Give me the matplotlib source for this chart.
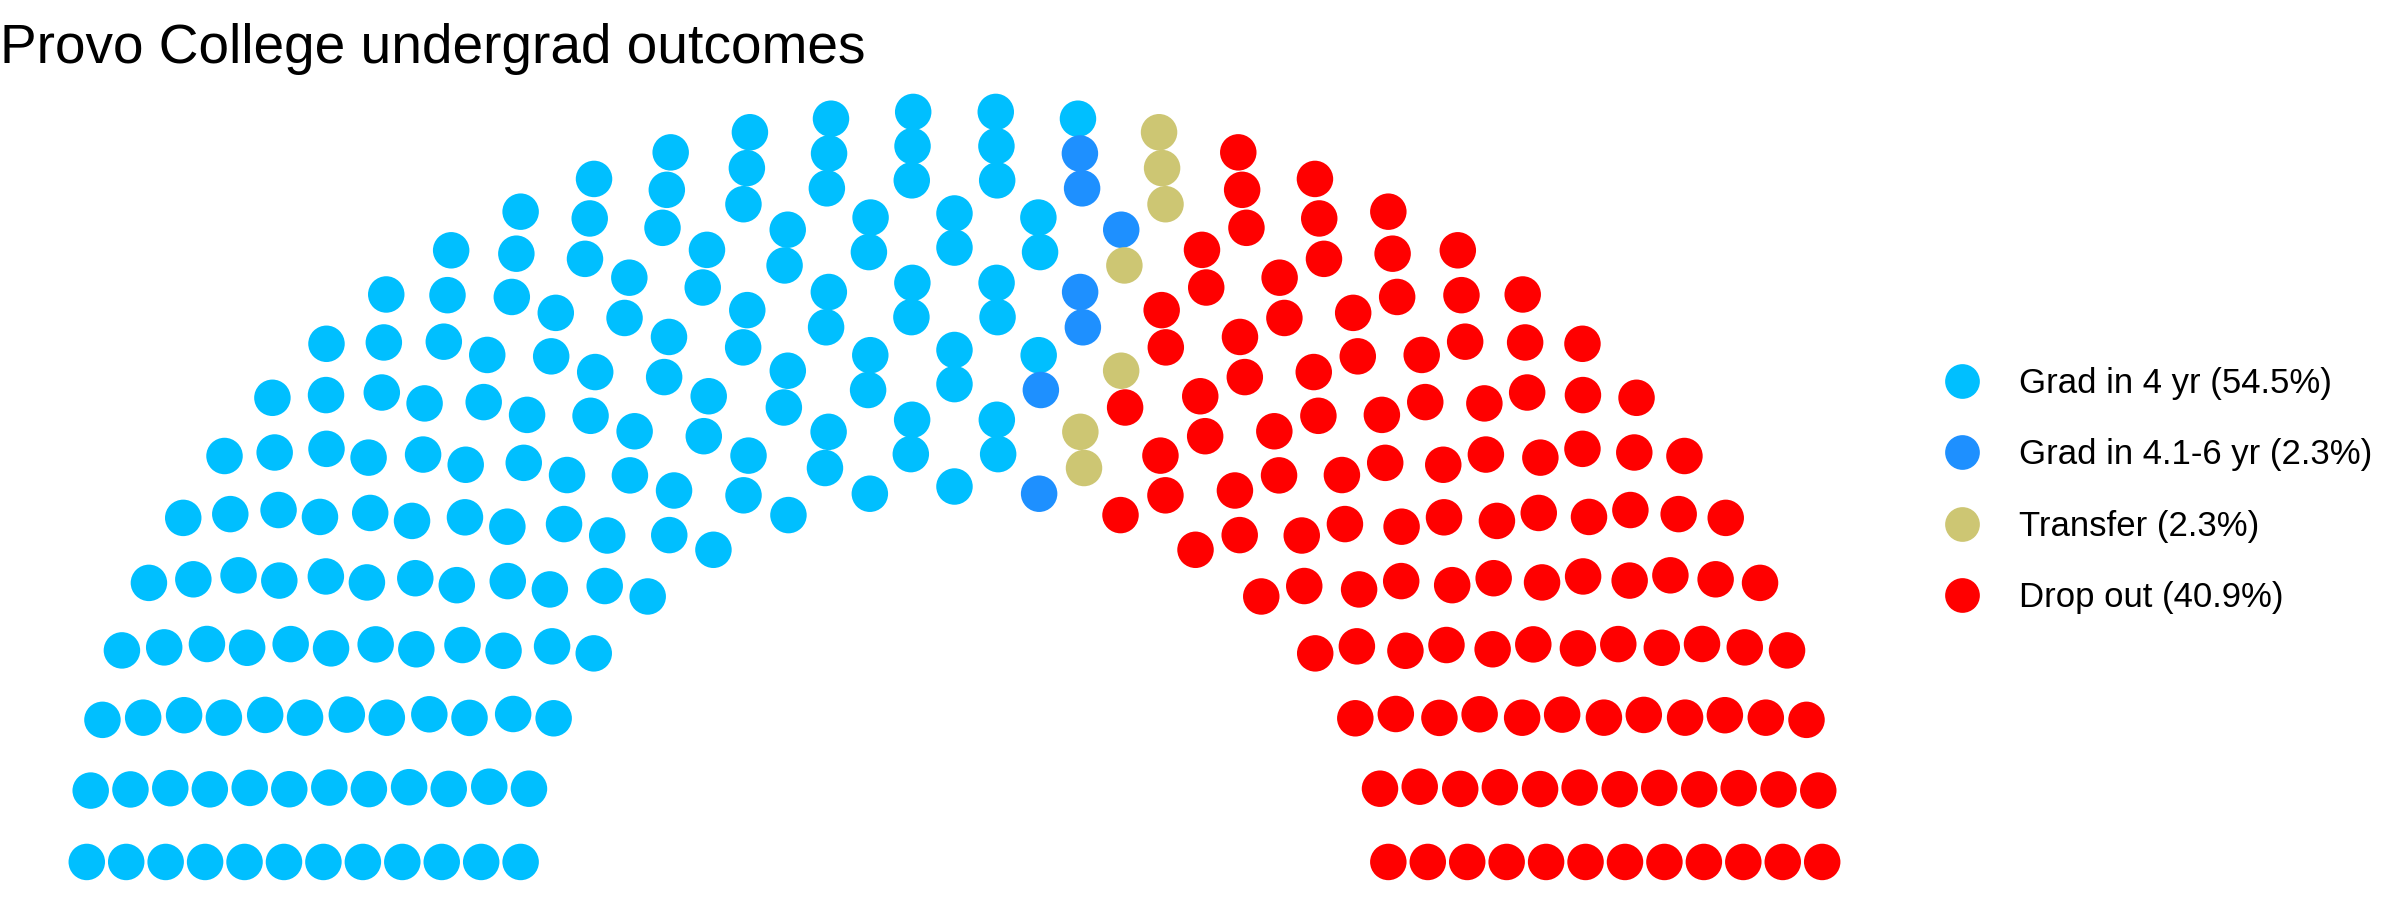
import numpy as np
import matplotlib.pyplot as plt
from matplotlib.lines import Line2D

# outcome groups and seat counts (301 seats in total)
parties = ["Grad in 4 yr", "Grad in 4.1-6 yr", "Transfer", "Drop out"]
seats = [164, 7, 7, 123]
colors = ["#00BFFF", "#1E90FF", "#CDC673", "#FF0000"]
n_rows = 12
title = "Provo College undergrad outcomes"


def semicircle_layout(n_seats, n_rows, limits=(1, 2)):
    # same idea as ggparliament: seats per row proportional to radius
    radii = np.linspace(limits[0], limits[1], n_rows)
    left = n_seats
    xs, ys, rows, thetas = [], [], [], []
    for i in range(n_rows):
        count = int(np.floor(left * radii[i] / radii[i:].sum() + 0.5))
        theta = np.linspace(0, np.pi, count)
        left -= count
        xs.append(radii[i] * np.cos(theta))
        ys.append(radii[i] * np.sin(theta))
        rows.append(np.full(count, i))
        thetas.append(theta)
    x = np.concatenate(xs)
    y = np.concatenate(ys)
    row = np.concatenate(rows)
    theta = np.concatenate(thetas)
    order = np.lexsort((-row, -theta))
    return x[order], y[order]


x, y = semicircle_layout(sum(seats), n_rows)
seat_color = np.repeat(colors, seats)

fig = plt.figure(figsize=(24, 9), dpi=100)
ax = fig.add_axes([0.0, 0.0006, 0.7954, 0.9167])
ax.scatter(x, y, s=690, c=seat_color, linewidths=0)
ax.set_xlim(-2.2, 2.2)
ax.set_ylim(-0.0999, 2.0976)
ax.axis("off")

fig.text(0.0, 1 - 63 / 900, title, fontsize=39.6, family="Liberation Sans",
         ha="left", va="baseline")

total = sum(seats)
handles = [Line2D([], [], linestyle="", marker="o", markersize=25,
                  markerfacecolor=c, markeredgewidth=0) for c in colors]
labels = [f"{p} ({100 * n / total:.1f}%)" for p, n in zip(parties, seats)]
fig.legend(handles, labels, loc="center left", bbox_to_anchor=(0.7973, 0.455),
           frameon=False, prop={"family": "Liberation Sans", "size": 25},
           handletextpad=1.14, labelspacing=1.11, handlelength=1.0)

fig.savefig("out.png", dpi=100, facecolor="white")
